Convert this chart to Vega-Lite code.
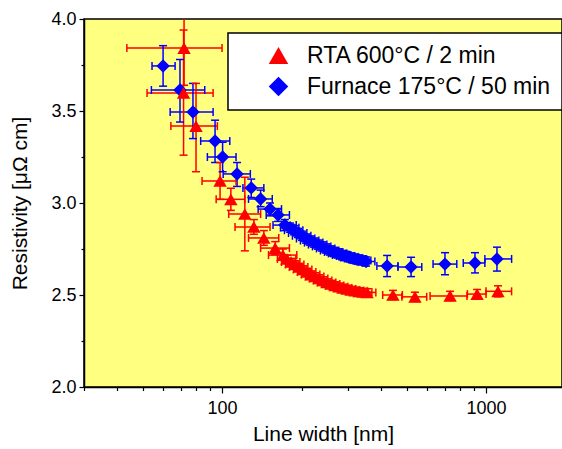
{
  "$schema": "https://vega.github.io/schema/vega-lite/v6.json",
  "width": 478,
  "height": 368,
  "autosize": {"type": "none"},
  "padding": {"left": 84, "top": 19, "right": 0, "bottom": 62},
  "background": "white",
  "config": {
    "font": "Liberation Sans",
    "view": {"fill": "#FFFF80", "stroke": "#000000", "strokeWidth": 1.5},
    "axis": {
      "grid": false,
      "domainColor": "#000000",
      "domainWidth": 1.5,
      "tickColor": "#000000",
      "tickWidth": 1.2,
      "labelColor": "#000000",
      "labelFontSize": 18,
      "titleFontSize": 21,
      "titleFontWeight": "normal",
      "titleColor": "#000000",
      "labelOverlap": false,
      "labelFlush": false
    },
    "legend": {
      "title": null, "orient": "none", "legendX": 144, "legendY": 14,
      "fillColor": "#FFFFFF", "strokeColor": "#000000", "strokeWidth": 1.5,
      "padding": 11, "symbolOffset": 28, "labelOffset": 17, "labelFontSize": 23,
      "labelColor": "#000000", "rowPadding": 7, "symbolSize": 380, "labelLimit": 400,
      "symbolStrokeWidth": 0, "symbolType": "circle"
    }
  },
  "data": {
    "values": [
      {"s": "Furnace 175°C / 50 min", "w": 59.8, "wl": 54.3, "wh": 66.4, "r": 3.745, "rl": 3.635, "rh": 3.855},
      {"s": "Furnace 175°C / 50 min", "w": 69.3, "wl": 54, "wh": 86, "r": 3.614, "rl": 3.44, "rh": 3.78},
      {"s": "Furnace 175°C / 50 min", "w": 77.6, "wl": 63.6, "wh": 92.5, "r": 3.495, "rl": 3.35, "rh": 3.65},
      {"s": "Furnace 175°C / 50 min", "w": 94.1, "wl": 83, "wh": 107, "r": 3.337, "rl": 3.22, "rh": 3.45},
      {"s": "Furnace 175°C / 50 min", "w": 100.5, "wl": 88, "wh": 113, "r": 3.25, "rl": 3.17, "rh": 3.33},
      {"s": "Furnace 175°C / 50 min", "w": 114, "wl": 101, "wh": 128, "r": 3.158, "rl": 3.09, "rh": 3.22},
      {"s": "Furnace 175°C / 50 min", "w": 129, "wl": 120, "wh": 144, "r": 3.082, "rl": 3.03, "rh": 3.13},
      {"s": "Furnace 175°C / 50 min", "w": 140, "wl": 126, "wh": 155, "r": 3.022, "rl": 2.98, "rh": 3.07},
      {"s": "Furnace 175°C / 50 min", "w": 152, "wl": 137, "wh": 168, "r": 2.967, "rl": 2.93, "rh": 3.0},
      {"s": "Furnace 175°C / 50 min", "w": 163, "wl": 147, "wh": 180, "r": 2.935, "rl": 2.9, "rh": 2.97},
      {"s": "Furnace 175°C / 50 min", "w": 173, "wl": 156, "wh": 191, "r": 2.88, "rl": 2.85, "rh": 2.91},
      {"s": "Furnace 175°C / 50 min", "w": 181, "wl": 166.5, "wh": 195.5, "r": 2.866, "rl": 2.841, "rh": 2.891},
      {"s": "Furnace 175°C / 50 min", "w": 187.4, "wl": 172.4, "wh": 202.4, "r": 2.852, "rl": 2.827, "rh": 2.877},
      {"s": "Furnace 175°C / 50 min", "w": 194.1, "wl": 178.6, "wh": 209.6, "r": 2.837, "rl": 2.812, "rh": 2.862},
      {"s": "Furnace 175°C / 50 min", "w": 200.9, "wl": 184.8, "wh": 217, "r": 2.822, "rl": 2.797, "rh": 2.847},
      {"s": "Furnace 175°C / 50 min", "w": 208, "wl": 191.4, "wh": 224.6, "r": 2.807, "rl": 2.782, "rh": 2.832},
      {"s": "Furnace 175°C / 50 min", "w": 215.4, "wl": 198.2, "wh": 232.6, "r": 2.796, "rl": 2.771, "rh": 2.821},
      {"s": "Furnace 175°C / 50 min", "w": 223.1, "wl": 205.3, "wh": 241, "r": 2.785, "rl": 2.76, "rh": 2.81},
      {"s": "Furnace 175°C / 50 min", "w": 231, "wl": 212.5, "wh": 249.5, "r": 2.774, "rl": 2.749, "rh": 2.799},
      {"s": "Furnace 175°C / 50 min", "w": 239.2, "wl": 220.1, "wh": 258.3, "r": 2.764, "rl": 2.739, "rh": 2.789},
      {"s": "Furnace 175°C / 50 min", "w": 247.7, "wl": 227.9, "wh": 267.5, "r": 2.753, "rl": 2.728, "rh": 2.778},
      {"s": "Furnace 175°C / 50 min", "w": 256.5, "wl": 236, "wh": 277, "r": 2.742, "rl": 2.717, "rh": 2.767},
      {"s": "Furnace 175°C / 50 min", "w": 265.6, "wl": 244.4, "wh": 286.8, "r": 2.734, "rl": 2.709, "rh": 2.759},
      {"s": "Furnace 175°C / 50 min", "w": 275, "wl": 253, "wh": 297, "r": 2.726, "rl": 2.701, "rh": 2.751},
      {"s": "Furnace 175°C / 50 min", "w": 284.8, "wl": 262, "wh": 307.6, "r": 2.717, "rl": 2.692, "rh": 2.742},
      {"s": "Furnace 175°C / 50 min", "w": 294.9, "wl": 271.3, "wh": 318.5, "r": 2.712, "rl": 2.687, "rh": 2.737},
      {"s": "Furnace 175°C / 50 min", "w": 305.4, "wl": 281, "wh": 329.8, "r": 2.704, "rl": 2.679, "rh": 2.729},
      {"s": "Furnace 175°C / 50 min", "w": 316.2, "wl": 290.9, "wh": 341.5, "r": 2.698, "rl": 2.673, "rh": 2.723},
      {"s": "Furnace 175°C / 50 min", "w": 327.5, "wl": 301.3, "wh": 353.7, "r": 2.693, "rl": 2.668, "rh": 2.718},
      {"s": "Furnace 175°C / 50 min", "w": 339.1, "wl": 312, "wh": 366.2, "r": 2.688, "rl": 2.663, "rh": 2.713},
      {"s": "Furnace 175°C / 50 min", "w": 351.2, "wl": 323.1, "wh": 379.3, "r": 2.682, "rl": 2.657, "rh": 2.707},
      {"s": "Furnace 175°C / 50 min", "w": 422, "wl": 386, "wh": 464, "r": 2.658, "rl": 2.6, "rh": 2.715},
      {"s": "Furnace 175°C / 50 min", "w": 520, "wl": 464, "wh": 571, "r": 2.652, "rl": 2.6, "rh": 2.705},
      {"s": "Furnace 175°C / 50 min", "w": 699, "wl": 630, "wh": 775, "r": 2.668, "rl": 2.61, "rh": 2.73},
      {"s": "Furnace 175°C / 50 min", "w": 908, "wl": 820, "wh": 990, "r": 2.674, "rl": 2.62, "rh": 2.73},
      {"s": "Furnace 175°C / 50 min", "w": 1100, "wl": 990, "wh": 1250, "r": 2.696, "rl": 2.63, "rh": 2.76},
      {"s": "RTA 600°C / 2 min", "w": 71.8, "wl": 43.6, "wh": 100, "r": 3.842, "rl": 3.64, "rh": 4.05},
      {"s": "RTA 600°C / 2 min", "w": 71.5, "wl": 52, "wh": 92.5, "r": 3.598, "rl": 3.26, "rh": 3.94},
      {"s": "RTA 600°C / 2 min", "w": 79.7, "wl": 64, "wh": 96, "r": 3.418, "rl": 3.17, "rh": 3.65},
      {"s": "RTA 600°C / 2 min", "w": 98.3, "wl": 84, "wh": 113, "r": 3.12, "rl": 3.02, "rh": 3.22},
      {"s": "RTA 600°C / 2 min", "w": 108, "wl": 95, "wh": 122, "r": 3.02, "rl": 2.96, "rh": 3.08},
      {"s": "RTA 600°C / 2 min", "w": 122, "wl": 106, "wh": 140, "r": 2.94, "rl": 2.74, "rh": 3.14},
      {"s": "RTA 600°C / 2 min", "w": 132, "wl": 112, "wh": 152, "r": 2.87, "rl": 2.83, "rh": 2.91},
      {"s": "RTA 600°C / 2 min", "w": 144, "wl": 126, "wh": 164, "r": 2.81, "rl": 2.77, "rh": 2.85},
      {"s": "RTA 600°C / 2 min", "w": 159, "wl": 140, "wh": 180, "r": 2.755, "rl": 2.72, "rh": 2.79},
      {"s": "RTA 600°C / 2 min", "w": 170, "wl": 150, "wh": 192, "r": 2.717, "rl": 2.69, "rh": 2.75},
      {"s": "RTA 600°C / 2 min", "w": 176.2, "wl": 162.1, "wh": 190.3, "r": 2.696, "rl": 2.676, "rh": 2.716},
      {"s": "RTA 600°C / 2 min", "w": 182.6, "wl": 168, "wh": 197.2, "r": 2.679, "rl": 2.659, "rh": 2.699},
      {"s": "RTA 600°C / 2 min", "w": 189.1, "wl": 174, "wh": 204.2, "r": 2.666, "rl": 2.646, "rh": 2.686},
      {"s": "RTA 600°C / 2 min", "w": 195.7, "wl": 180, "wh": 211.4, "r": 2.652, "rl": 2.632, "rh": 2.672},
      {"s": "RTA 600°C / 2 min", "w": 202.7, "wl": 186.5, "wh": 218.9, "r": 2.639, "rl": 2.619, "rh": 2.659},
      {"s": "RTA 600°C / 2 min", "w": 209.9, "wl": 193.1, "wh": 226.7, "r": 2.625, "rl": 2.605, "rh": 2.645},
      {"s": "RTA 600°C / 2 min", "w": 217.3, "wl": 199.9, "wh": 234.7, "r": 2.611, "rl": 2.591, "rh": 2.631},
      {"s": "RTA 600°C / 2 min", "w": 225.1, "wl": 207.1, "wh": 243.1, "r": 2.601, "rl": 2.581, "rh": 2.621},
      {"s": "RTA 600°C / 2 min", "w": 233, "wl": 214.4, "wh": 251.6, "r": 2.59, "rl": 2.57, "rh": 2.61},
      {"s": "RTA 600°C / 2 min", "w": 241.3, "wl": 222, "wh": 260.6, "r": 2.579, "rl": 2.559, "rh": 2.599},
      {"s": "RTA 600°C / 2 min", "w": 249.8, "wl": 229.8, "wh": 269.8, "r": 2.568, "rl": 2.548, "rh": 2.588},
      {"s": "RTA 600°C / 2 min", "w": 258.8, "wl": 238.1, "wh": 279.5, "r": 2.56, "rl": 2.54, "rh": 2.58},
      {"s": "RTA 600°C / 2 min", "w": 267.9, "wl": 246.5, "wh": 289.3, "r": 2.552, "rl": 2.532, "rh": 2.572},
      {"s": "RTA 600°C / 2 min", "w": 277.5, "wl": 255.3, "wh": 299.7, "r": 2.545, "rl": 2.525, "rh": 2.565},
      {"s": "RTA 600°C / 2 min", "w": 287.3, "wl": 264.3, "wh": 310.3, "r": 2.538, "rl": 2.518, "rh": 2.558},
      {"s": "RTA 600°C / 2 min", "w": 297.5, "wl": 273.7, "wh": 321.3, "r": 2.533, "rl": 2.513, "rh": 2.553},
      {"s": "RTA 600°C / 2 min", "w": 308.1, "wl": 283.5, "wh": 332.7, "r": 2.527, "rl": 2.507, "rh": 2.547},
      {"s": "RTA 600°C / 2 min", "w": 319.1, "wl": 293.6, "wh": 344.6, "r": 2.523, "rl": 2.503, "rh": 2.543},
      {"s": "RTA 600°C / 2 min", "w": 330.3, "wl": 303.9, "wh": 356.7, "r": 2.519, "rl": 2.499, "rh": 2.539},
      {"s": "RTA 600°C / 2 min", "w": 342.1, "wl": 314.7, "wh": 369.5, "r": 2.516, "rl": 2.496, "rh": 2.536},
      {"s": "RTA 600°C / 2 min", "w": 354.2, "wl": 325.9, "wh": 382.5, "r": 2.514, "rl": 2.494, "rh": 2.534},
      {"s": "RTA 600°C / 2 min", "w": 444, "wl": 406, "wh": 482, "r": 2.5, "rl": 2.475, "rh": 2.525},
      {"s": "RTA 600°C / 2 min", "w": 538, "wl": 480, "wh": 596, "r": 2.49, "rl": 2.465, "rh": 2.515},
      {"s": "RTA 600°C / 2 min", "w": 731, "wl": 614, "wh": 847, "r": 2.495, "rl": 2.47, "rh": 2.52},
      {"s": "RTA 600°C / 2 min", "w": 925, "wl": 850, "wh": 1000, "r": 2.505, "rl": 2.48, "rh": 2.53},
      {"s": "RTA 600°C / 2 min", "w": 1110, "wl": 1000, "wh": 1250, "r": 2.52, "rl": 2.49, "rh": 2.55}
    ]
  },
  "layer": [
    {
      "mark": {"type": "rule", "strokeWidth": 1.5, "clip": true},
      "encoding": {
        "x": {
          "field": "wl", "type": "quantitative", "title": "Line width [nm]",
          "scale": {"type": "log", "domain": [30, 1940], "nice": false},
          "axis": {
            "values": [30, 40, 50, 60, 70, 80, 90, 100, 200, 300, 400, 500, 600, 700, 800, 900, 1000],
            "labelExpr": "(datum.value == 100 || datum.value == 1000) ? format(datum.value, 'd') : ''",
            "tickSize": {"condition": {"test": "datum.value == 100 || datum.value == 1000", "value": 6}, "value": 3.5},
            "labelPadding": 6,
            "titlePadding": 6
          }
        },
        "x2": {"field": "wh"},
        "y": {
          "field": "r", "type": "quantitative", "title": "Resistivity [μΩ cm]",
          "scale": {"domain": [2, 4], "nice": false, "zero": false},
          "axis": {
            "values": [2, 2.25, 2.5, 2.75, 3, 3.25, 3.5, 3.75, 4],
            "labelExpr": "(datum.value * 2) % 1 == 0 ? format(datum.value, '.1f') : ''",
            "tickSize": {"condition": {"test": "(datum.value * 2) % 1 == 0", "value": 5}, "value": 3},
            "labelPadding": 3,
            "titlePadding": 20
          }
        },
        "color": {"field": "s", "type": "nominal",
          "scale": {"domain": ["RTA 600°C / 2 min", "Furnace 175°C / 50 min"], "range": ["#FF0000", "#0000FF"]}}
      }
    },
    {
      "mark": {"type": "rule", "strokeWidth": 1.5, "clip": true},
      "encoding": {
        "x": {"field": "w", "type": "quantitative", "title": "Line width [nm]"},
        "y": {"field": "rl", "type": "quantitative", "title": "Resistivity [μΩ cm]"},
        "y2": {"field": "rh"},
        "color": {"field": "s", "type": "nominal"}
      }
    },
    {
      "mark": {"type": "tick", "orient": "vertical", "size": 8, "thickness": 1.5, "clip": true, "opacity": 1},
      "encoding": {
        "x": {"field": "wl", "type": "quantitative", "title": "Line width [nm]"},
        "y": {"field": "r", "type": "quantitative", "title": "Resistivity [μΩ cm]"},
        "color": {"field": "s", "type": "nominal"}
      }
    },
    {
      "mark": {"type": "tick", "orient": "vertical", "size": 8, "thickness": 1.5, "clip": true, "opacity": 1},
      "encoding": {
        "x": {"field": "wh", "type": "quantitative", "title": "Line width [nm]"},
        "y": {"field": "r", "type": "quantitative", "title": "Resistivity [μΩ cm]"},
        "color": {"field": "s", "type": "nominal"}
      }
    },
    {
      "mark": {"type": "tick", "orient": "horizontal", "size": 8, "thickness": 1.5, "clip": true, "opacity": 1},
      "encoding": {
        "x": {"field": "w", "type": "quantitative", "title": "Line width [nm]"},
        "y": {"field": "rl", "type": "quantitative", "title": "Resistivity [μΩ cm]"},
        "color": {"field": "s", "type": "nominal"}
      }
    },
    {
      "mark": {"type": "tick", "orient": "horizontal", "size": 8, "thickness": 1.5, "clip": true, "opacity": 1},
      "encoding": {
        "x": {"field": "w", "type": "quantitative", "title": "Line width [nm]"},
        "y": {"field": "rh", "type": "quantitative", "title": "Resistivity [μΩ cm]"},
        "color": {"field": "s", "type": "nominal"}
      }
    },
    {
      "mark": {"type": "point", "filled": true, "opacity": 1, "size": 180, "clip": true},
      "encoding": {
        "x": {"field": "w", "type": "quantitative", "title": "Line width [nm]"},
        "y": {"field": "r", "type": "quantitative", "title": "Resistivity [μΩ cm]"},
        "color": {"field": "s", "type": "nominal"},
        "shape": {"field": "s", "type": "nominal",
          "scale": {"domain": ["RTA 600°C / 2 min", "Furnace 175°C / 50 min"], "range": ["triangle-up", "diamond"]}}
      }
    }
  ]
}
